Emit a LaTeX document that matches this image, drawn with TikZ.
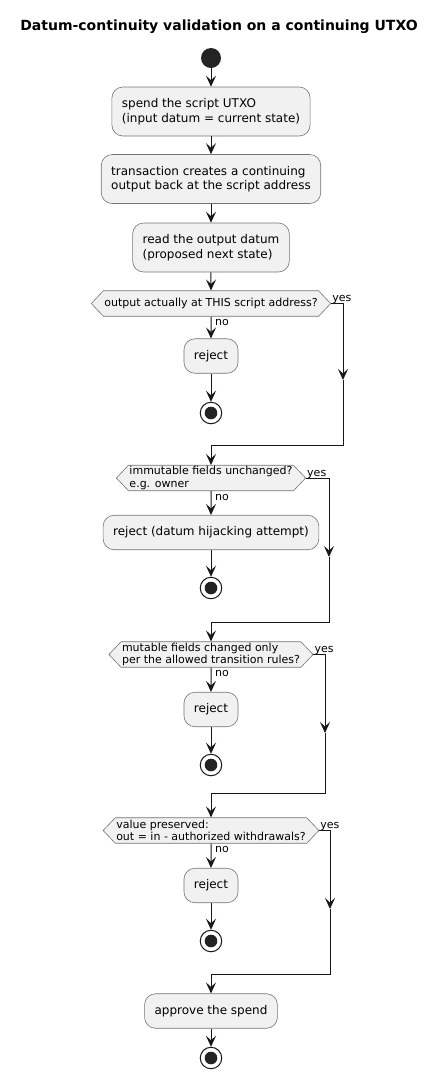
\documentclass[tikz,border=0pt]{standalone}
\usepackage{fontspec}
\setmainfont{DejaVu Sans}
\usetikzlibrary{shapes.symbols, arrows.meta, positioning, calc}
\definecolor{actfill}{HTML}{F1F1F1}
\definecolor{ink}{HTML}{181818}

\begin{document}
\begin{tikzpicture}[
      x=1pt, y=-1pt,
      act/.style={rectangle, draw=ink!60, line width=0.6pt, rounded corners=11pt, fill=actfill, align=left, inner xsep=10pt, font=\fontsize{12}{14.5}\selectfont},
      acttwo/.style={act, minimum height=49pt},
      actone/.style={act, minimum height=34.5pt},
      decision/.style={signal, signal to=west and east, signal pointer angle=93, draw=ink!60, line width=0.6pt, fill=actfill, align=left, inner xsep=1pt, inner ysep=0.5pt, minimum height=25.5pt, font=\fontsize{11}{12.5}\selectfont},
      startnode/.style={circle, fill=ink!95, minimum size=20pt, inner sep=0pt},
      stopnode/.style={circle, draw=ink, line width=1pt, fill=white, minimum size=21.5pt, inner sep=0pt, path picture={\fill[ink!95] (path picture bounding box.center) circle (6.3pt);}},
      lbl/.style={font=\fontsize{11}{12}\selectfont, inner sep=0pt, anchor=base west},
      arrow/.style={-{Stealth[length=11pt, width=10pt, inset=4.5pt]}, line width=1pt, draw=ink},
      flow/.style={line width=1pt, draw=ink}
    ]
    \useasboundingbox (0,0) rectangle (439,1080);

    \node[font=\fontsize{14}{16}\selectfont\bfseries] (title) at (219,27) {Datum-continuity validation on a continuing UTXO};

    \node[startnode] (start) at (211,58) {};
    \node[acttwo] (spend) at (211,111.5) {spend the script UTXO\\(input datum = current state)};
    \node[acttwo] (create) at (211,179) {transaction creates a continuing\\output back at the script address};
    \node[acttwo] (read) at (211,247.5) {read the output datum\\(proposed next state)};

    \node[decision] (chkaddr) at (211,303.5) {output actually at THIS script address?};
    \node[actone] (rej1) at (211,356) {reject};
    \node[stopnode] (stop1) at (211,413) {};

    \node[decision] (chkfix) at (211,478) {immutable fields unchanged?\\e.g. owner};
    \node[actone] (rej2) at (211,532.5) {reject (datum hijacking attempt)};
    \node[stopnode] (stop2) at (211,588) {};

    \node[decision] (chkmut) at (211,654.5) {mutable fields changed only\\per the allowed transition rules?};
    \node[actone] (rej3) at (211,709.5) {reject};
    \node[stopnode] (stop3) at (211,765) {};

    \node[decision] (chkval) at (211,830.5) {value preserved:\\out = in - authorized withdrawals?};
    \node[actone] (rej4) at (211,885.5) {reject};
    \node[stopnode] (stop4) at (211,941) {};

    \node[actone] (approve) at (211,1011) {approve the spend};
    \node[stopnode] (done) at (211,1058) {};

    % main line
    \draw[arrow] (start) -- (spend);
    \draw[arrow] (spend) -- (create);
    \draw[arrow] (create) -- (read);
    \draw[arrow] (read) -- (chkaddr);

    % no branches
    \draw[arrow] (chkaddr) -- (rej1);
    \draw[arrow] (rej1) -- (stop1);
    \draw[arrow] (chkfix) -- (rej2);
    \draw[arrow] (rej2) -- (stop2);
    \draw[arrow] (chkmut) -- (rej3);
    \draw[arrow] (rej3) -- (stop3);
    \draw[arrow] (chkval) -- (rej4);
    \draw[arrow] (rej4) -- (stop4);
    \draw[arrow] (approve) -- (done);

    \foreach \d in {chkaddr, chkfix, chkmut, chkval} {
      \node[lbl] at ($(\d.south)+(4,9)$) {no};
      \node[lbl] at ($(\d.east)+(1,-2)$) {yes};
    }

    % yes branches
    \coordinate (yes1) at (343,303.5);
    \coordinate (mid1) at (343,380);
    \coordinate (join1) at (343,445);
    \draw[arrow] (chkaddr.east) -- (yes1) -- (mid1);
    \draw[arrow] (mid1) -- (join1) -| (chkfix.north);

    \coordinate (yes2) at (329,478);
    \coordinate (mid2) at (329,557);
    \coordinate (join2) at (329,622);
    \draw[arrow] (chkfix.east) -- (yes2) -- (mid2);
    \draw[arrow] (mid2) -- (join2) -| (chkmut.north);

    \coordinate (yes3) at (325,654.5);
    \coordinate (mid3) at (325,733);
    \coordinate (join3) at (325,793);
    \draw[arrow] (chkmut.east) -- (yes3) -- (mid3);
    \draw[arrow] (mid3) -- (join3) -| (chkval.north);

    \coordinate (yes4) at (330,830.5);
    \coordinate (mid4) at (330,909);
    \coordinate (join4) at (330,974);
    \draw[arrow] (chkval.east) -- (yes4) -- (mid4);
    \draw[arrow] (mid4) -- (join4) -| (approve.north);
  \end{tikzpicture}
\end{document}
